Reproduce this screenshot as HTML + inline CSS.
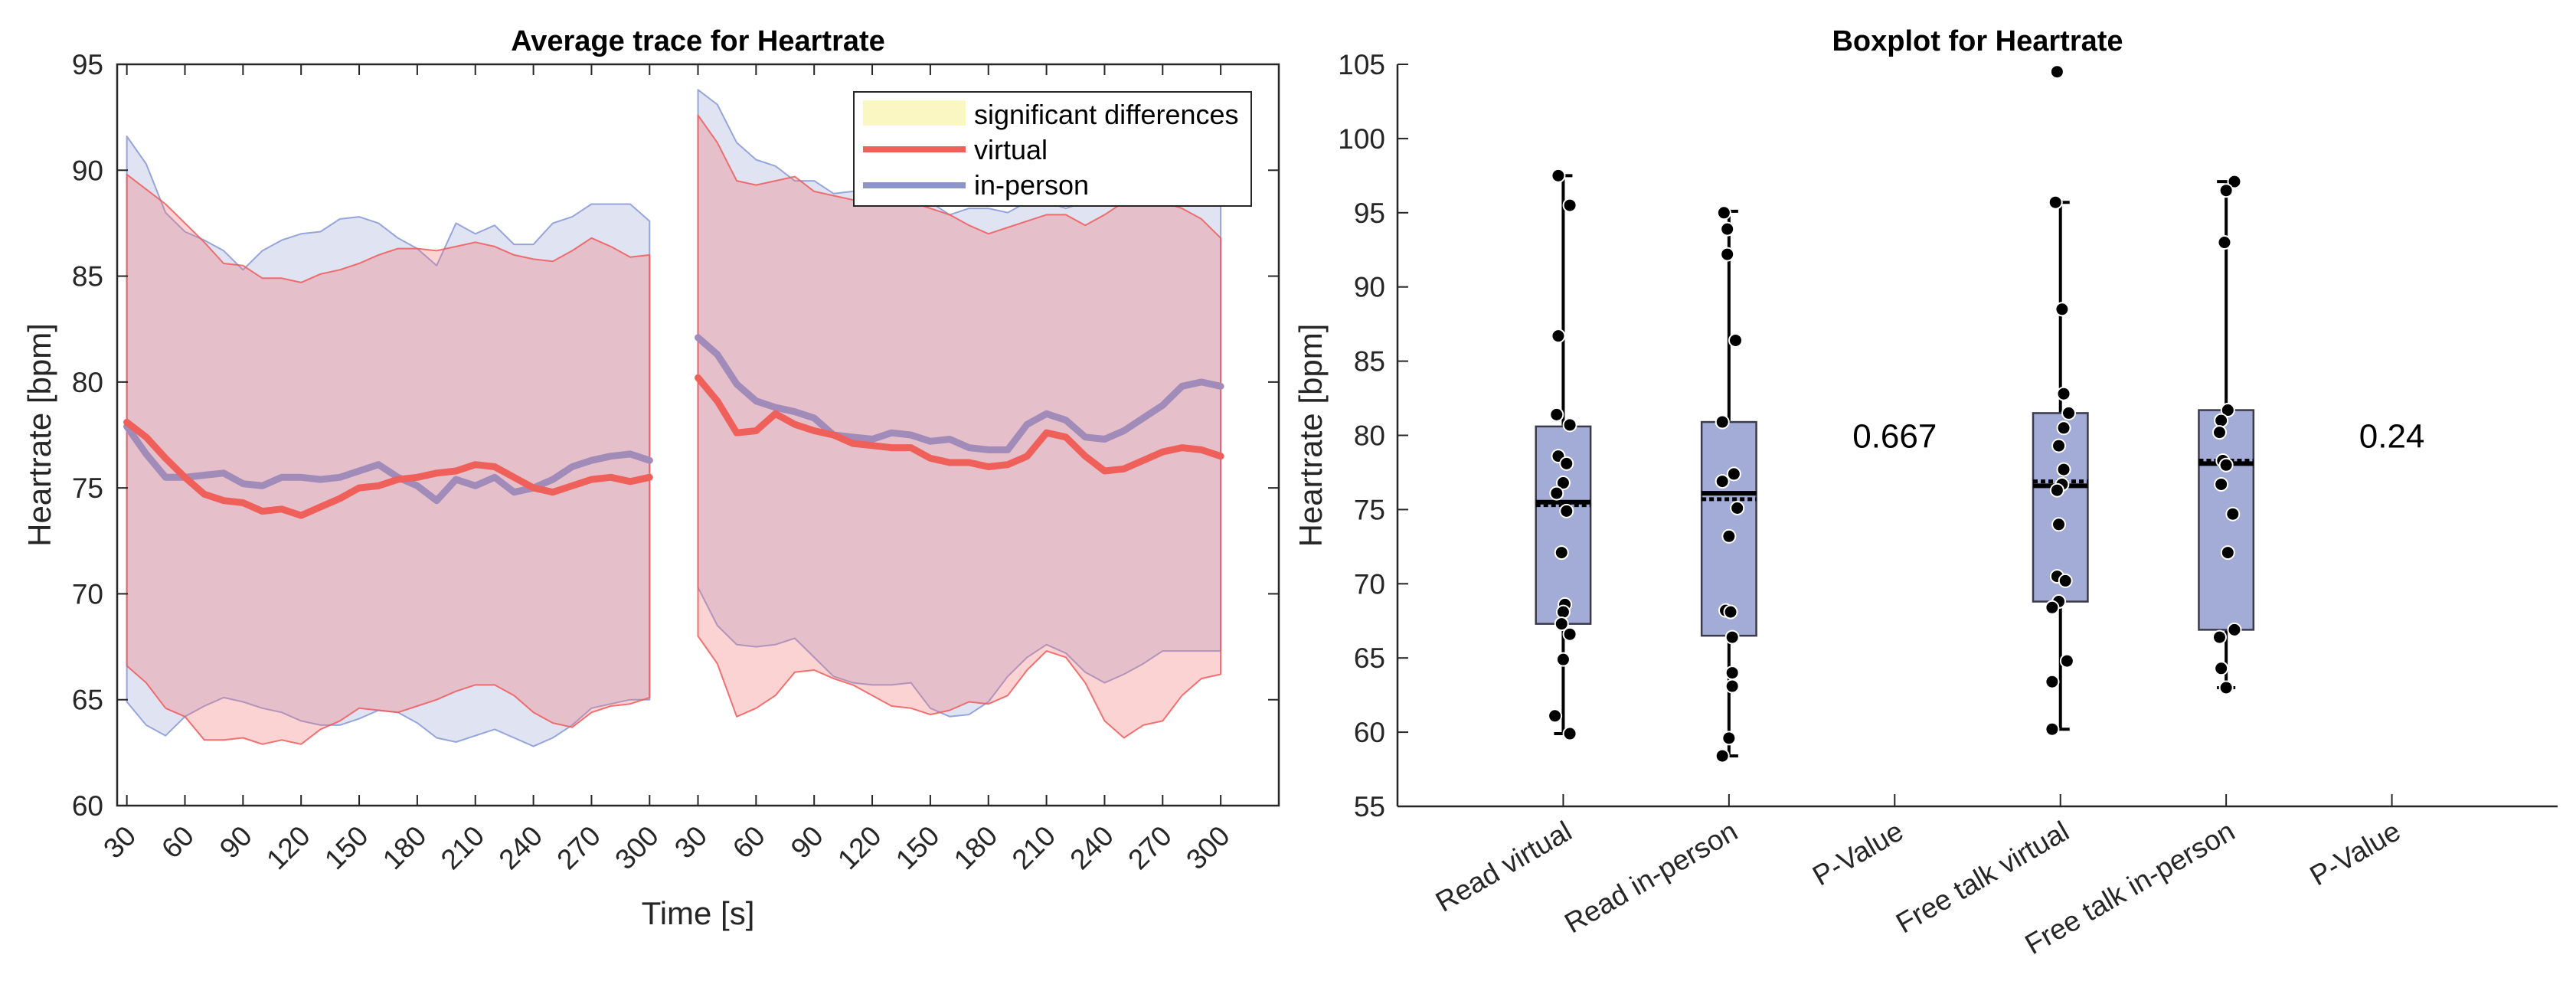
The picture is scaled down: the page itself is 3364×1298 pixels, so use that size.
<!DOCTYPE html>
<html><head><meta charset="utf-8"><style>
html,body{margin:0;padding:0;background:#fff;}
svg{display:block;font-family:"Liberation Sans",Arial,sans-serif;}
</style></head><body>
<svg id="fig" width="3364" height="1298" viewBox="0 0 3364 1298" xmlns="http://www.w3.org/2000/svg">
<rect width="3364" height="1298" fill="#fff"/>
<g id="left"></g>
<g id="right"></g>
</svg>
<script>
// ---------- Left chart data ----------
const times = [30,40,50,60,70,80,90,100,110,120,130,140,150,160,170,180,190,200,210,220,230,240,250,260,270,280,290,300];
const xTickLabels = [30,60,90,120,150,180,210,240,270,300];
const yTickLeft = [60,65,70,75,80,85,90,95];
// Panel 1 (read)
const p1VirtMean = [78.1,77.4,76.4,75.5,74.7,74.4,74.3,73.9,74.0,73.7,74.1,74.5,75.0,75.1,75.4,75.5,75.7,75.8,76.1,76.0,75.5,75.0,74.8,75.1,75.4,75.5,75.3,75.5];
const p1PersMean = [77.9,76.6,75.5,75.5,75.6,75.7,75.2,75.1,75.5,75.5,75.4,75.5,75.8,76.1,75.5,75.1,74.4,75.4,75.1,75.5,74.8,75.0,75.4,76.0,76.3,76.5,76.6,76.3];
const p1VirtUpper = [89.8,89.1,88.4,87.5,86.6,85.6,85.5,84.9,84.9,84.7,85.1,85.3,85.6,86.0,86.3,86.3,86.2,86.4,86.6,86.4,86.0,85.8,85.7,86.2,86.8,86.4,85.9,86.0];
const p1VirtLower = [66.6,65.8,64.6,64.2,63.1,63.1,63.2,62.9,63.1,62.9,63.6,64.0,64.6,64.5,64.4,64.7,65.0,65.4,65.7,65.7,65.2,64.4,63.9,63.7,64.4,64.7,64.8,65.1];
const p1PersUpper = [91.6,90.3,88.0,87.1,86.7,86.2,85.3,86.2,86.7,87.0,87.1,87.7,87.8,87.5,86.8,86.3,85.5,87.5,87.0,87.4,86.5,86.5,87.5,87.8,88.4,88.4,88.4,87.6];
const p1PersLower = [64.9,63.8,63.3,64.2,64.7,65.1,64.9,64.6,64.4,64.0,63.8,63.8,64.1,64.5,64.4,63.9,63.2,63.0,63.3,63.6,63.2,62.8,63.2,63.8,64.6,64.8,65.0,65.0];
// Panel 2 (free talk)
const p2VirtMean = [80.2,79.1,77.6,77.7,78.5,78.0,77.7,77.5,77.1,77.0,76.9,76.9,76.4,76.2,76.2,76.0,76.1,76.5,77.6,77.4,76.5,75.8,75.9,76.3,76.7,76.9,76.8,76.5];
const p2PersMean = [82.1,81.3,79.9,79.1,78.8,78.6,78.3,77.5,77.4,77.3,77.6,77.5,77.2,77.3,76.9,76.8,76.8,78.0,78.5,78.2,77.4,77.3,77.7,78.3,78.9,79.8,80.0,79.8];
const p2VirtUpper = [92.6,91.3,89.5,89.3,89.5,89.7,89.0,88.8,88.6,88.5,88.5,88.5,88.2,87.9,87.4,87.0,87.3,87.6,87.9,87.9,87.4,87.9,88.5,88.8,88.5,88.2,87.7,86.8];
const p2VirtLower = [68.0,66.7,64.2,64.6,65.2,66.3,66.4,66.0,65.7,65.2,64.7,64.6,64.3,64.5,64.9,64.8,65.2,66.4,67.3,67.0,65.8,64.0,63.2,63.8,64.0,65.2,66.0,66.2];
const p2PersUpper = [93.8,93.1,91.3,90.5,90.2,89.5,89.5,88.9,89.0,89.0,89.0,89.0,88.5,87.9,88.2,88.2,88.0,88.5,88.5,88.2,88.5,88.8,89.0,89.0,89.0,89.0,88.8,89.0];
const p2PersLower = [70.3,68.5,67.6,67.5,67.6,67.9,67.0,66.1,65.8,65.7,65.7,65.8,64.6,64.2,64.3,64.9,66.1,67.0,67.6,67.2,66.3,65.8,66.2,66.7,67.3,67.3,67.3,67.3];
const panel2Offset = 295;

// ---------- Right chart data ----------
const categories = ["Read virtual","Read in-person","P-Value","Free talk virtual","Free talk in-person","P-Value"];
const yTickRight = [55,60,65,70,75,80,85,90,95,100,105];
const boxQ1 = [67.3,66.5,68.8,66.9];
const boxQ3 = [80.6,80.9,81.5,81.7];
const boxMedian = [75.5,76.1,76.6,78.1];
const boxMean = [75.3,75.7,76.9,78.3];
const whiskerLow = [59.9,58.4,60.2,63.0];
const whiskerHigh = [97.5,95.1,95.7,97.1];
const boxCategoryIndex = [1,2,4,5];
const pValues = ["0.667","0.24"];
const pValueIndex = [3,6];
const pts1 = [97.5,95.5,86.7,81.4,80.7,78.6,78.1,76.8,76.1,74.9,72.1,68.6,68.1,67.3,66.6,64.9,61.1,59.9];
const jit1 = [-0.03,0.04,-0.03,-0.04,0.04,-0.03,0.02,0,-0.04,0.02,-0.01,0.01,0,-0.01,0.04,0,-0.05,0.04];
const pts2 = [95.0,93.9,92.2,86.4,80.9,77.4,76.9,75.1,73.2,68.2,68.1,66.4,64.0,63.1,59.6,58.4];
const jit2 = [-0.03,-0.01,-0.01,0.04,-0.04,0.03,-0.04,0.05,0,-0.02,0.01,0.02,0.02,0.02,0,-0.04];
const pts3 = [104.5,95.7,88.5,82.8,81.5,80.5,79.3,77.7,76.7,76.3,74.0,70.5,70.2,68.8,68.4,64.8,63.4,60.2];
const jit3 = [-0.02,-0.03,0.01,0.02,0.05,0.02,-0.01,0.02,0.01,-0.02,-0.01,-0.02,0.03,-0.01,-0.05,0.04,-0.05,-0.05];
const pts4 = [97.1,96.5,93.0,81.7,81.0,80.2,78.3,78.0,76.7,74.7,72.1,66.9,66.4,64.3,63.0];
const jit4 = [0.05,0,-0.01,0.01,-0.03,-0.04,-0.02,0,-0.03,0.04,0.01,0.05,-0.04,-0.03,0];

const NS = "http://www.w3.org/2000/svg";
function mk(parent, tag, attrs, text){
  const e = document.createElementNS(NS, tag);
  for (const k in attrs) e.setAttribute(k, attrs[k]);
  if (text !== undefined) e.textContent = text;
  parent.appendChild(e);
  return e;
}
const TXT = "#262626";

// ===== LEFT =====
(function(){
  const g = document.getElementById('left');
  const L=153, R=1670, T=84, B=1052;
  const xMin=25, xMax=625, yMin=60, yMax=95;
  const X = u => L + (u-xMin)/(xMax-xMin)*(R-L);
  const Y = v => B - (v-yMin)/(yMax-yMin)*(B-T);
  function area(tArr, off, up, lo, fill, stroke, name){
    let d = "M"+tArr.map((t,i)=>X(t+off).toFixed(1)+","+Y(up[i]).toFixed(1)).join("L");
    for (let i=tArr.length-1;i>=0;i--) d += "L"+X(tArr[i]+off).toFixed(1)+","+Y(lo[i]).toFixed(1);
    d += "Z";
    const p = mk(g,'path',{d:d, fill:fill, stroke:stroke, 'stroke-width':2, 'stroke-linejoin':'round'});
    
    
  }
  function line(tArr, off, vals, color, name){
    const d = "M"+tArr.map((t,i)=>X(t+off).toFixed(1)+","+Y(vals[i]).toFixed(1)).join("L");
    const p = mk(g,'path',{d:d, fill:'none', stroke:color, 'stroke-width':9, 'stroke-linejoin':'round','stroke-linecap':'round'});
    
    
  }
  const blueFill="rgba(120,140,200,0.24)", blueStroke="rgba(120,140,210,0.75)";
  const redFill="rgba(245,110,110,0.30)", redStroke="rgba(240,90,90,0.85)";
  area(times,0,p1PersUpper,p1PersLower,blueFill,blueStroke,'inperson-band-read');
  area(times,0,p1VirtUpper,p1VirtLower,redFill,redStroke,'virtual-band-read');
  area(times,panel2Offset,p2PersUpper,p2PersLower,blueFill,blueStroke,'inperson-band-freetalk');
  area(times,panel2Offset,p2VirtUpper,p2VirtLower,redFill,redStroke,'virtual-band-freetalk');
  line(times,0,p1PersMean,'#a08bb9','inperson-mean-read');
  line(times,0,p1VirtMean,'#f0605a','virtual-mean-read');
  line(times,panel2Offset,p2PersMean,'#a08bb9','inperson-mean-freetalk');
  line(times,panel2Offset,p2VirtMean,'#f0605a','virtual-mean-freetalk');

  // frame
  const fr = mk(g,'rect',{x:L,y:T,width:R-L,height:B-T,fill:'none',stroke:TXT,'stroke-width':2.5});
   
  // y ticks
  yTickLeft.forEach(v=>{
    const y=Y(v);
    mk(g,'line',{x1:L,x2:L+14,y1:y,y2:y,stroke:TXT,'stroke-width':2});
    mk(g,'line',{x1:R,x2:R-14,y1:y,y2:y,stroke:TXT,'stroke-width':2});
    const t = mk(g,'text',{x:L-18,y:y+13,'text-anchor':'end','font-size':37,fill:TXT},String(v));
     
  });
  // x ticks
  [0,panel2Offset].forEach(off=>{
    xTickLabels.forEach(v=>{
      const x=X(v+off);
      mk(g,'line',{x1:x,x2:x,y1:B,y2:B-14,stroke:TXT,'stroke-width':2});
      mk(g,'line',{x1:x,x2:x,y1:T,y2:T+14,stroke:TXT,'stroke-width':2});
      const t = mk(g,'text',{x:x+14,y:B+42,'text-anchor':'end','font-size':37,fill:TXT,transform:`rotate(-45 ${x+14} ${B+42})`},String(v));
       
    });
  });
  const ttl = mk(g,'text',{x:(L+R)/2,y:66,'text-anchor':'middle','font-size':38,'font-weight':'bold',fill:'#000'},'Average trace for Heartrate');
   
  const xl = mk(g,'text',{x:(L+R)/2,y:1207,'text-anchor':'middle','font-size':42,fill:TXT},'Time [s]');
   
  const yl = mk(g,'text',{x:66,y:(T+B)/2,'text-anchor':'middle','font-size':42,fill:TXT,transform:`rotate(-90 66 ${(T+B)/2})`},'Heartrate [bpm]');
   

  // legend
  const lg = mk(g,'g',{});
   
  mk(lg,'rect',{x:1115,y:120,width:519,height:149,fill:'#fff',stroke:TXT,'stroke-width':2});
  mk(lg,'rect',{x:1127,y:131,width:134,height:33,fill:'#faf7c3'});
  mk(lg,'line',{x1:1127,x2:1261,y1:195,y2:195,stroke:'#f0605a','stroke-width':8});
  mk(lg,'line',{x1:1127,x2:1261,y1:242,y2:242,stroke:'#8c94c8','stroke-width':8});
  const e1=mk(lg,'text',{x:1272,y:162,'font-size':36,fill:'#000'},'significant differences');
   
  const e2=mk(lg,'text',{x:1272,y:208,'font-size':36,fill:'#000'},'virtual');
   
  const e3=mk(lg,'text',{x:1272,y:254,'font-size':36,fill:'#000'},'in-person');
   
})();

// ===== RIGHT =====
(function(){
  const g = document.getElementById('right');
  const L=1825, R=3340, T=84, B=1053;
  const yMin=55, yMax=105;
  const X = c => L + c/7*(R-L);
  const Y = v => B - (v-yMin)/(yMax-yMin)*(B-T);
  const bw = 0.33; // box width in category units
  const allPts=[pts1,pts2,pts3,pts4], allJit=[jit1,jit2,jit3,jit4];
  boxCategoryIndex.forEach((c,i)=>{
    const bg = mk(g,'g',{});
     
    const cx=X(c), hw=bw/2*(R-L)/7;
    mk(bg,'line',{x1:cx,x2:cx,y1:Y(whiskerHigh[i]),y2:Y(whiskerLow[i]),stroke:'#000','stroke-width':4});
    mk(bg,'line',{x1:cx-12,x2:cx+12,y1:Y(whiskerHigh[i]),y2:Y(whiskerHigh[i]),stroke:'#000','stroke-width':4});
    mk(bg,'line',{x1:cx-12,x2:cx+12,y1:Y(whiskerLow[i]),y2:Y(whiskerLow[i]),stroke:'#000','stroke-width':4});
    mk(bg,'rect',{x:cx-hw,y:Y(boxQ3[i]),width:2*hw,height:Y(boxQ1[i])-Y(boxQ3[i]),fill:'#a2acd6',stroke:'#3a3a4a','stroke-width':2.5});
    mk(bg,'line',{x1:cx-hw,x2:cx+hw,y1:Y(boxMean[i]),y2:Y(boxMean[i]),stroke:'#000','stroke-width':5,'stroke-dasharray':'6 4'});
    mk(bg,'line',{x1:cx-hw,x2:cx+hw,y1:Y(boxMedian[i]),y2:Y(boxMedian[i]),stroke:'#000','stroke-width':6});
    allPts[i].forEach((v,j)=>{
      const p = mk(bg,'circle',{cx:X(c+allJit[i][j]),cy:Y(v),r:8.5,fill:'#000',stroke:'#fff','stroke-width':2});
       
    });
  });
  pValueIndex.forEach((c,i)=>{
    const t = mk(g,'text',{x:X(c),y:Y(80)+16,'text-anchor':'middle','font-size':44,fill:'#000'},pValues[i]);
     
  });
  mk(g,'line',{x1:L,x2:L,y1:T,y2:B,stroke:TXT,'stroke-width':2.5});
  mk(g,'line',{x1:L,x2:R,y1:B,y2:B,stroke:TXT,'stroke-width':2.5});
  yTickRight.forEach(v=>{
    const y=Y(v);
    mk(g,'line',{x1:L,x2:L+14,y1:y,y2:y,stroke:TXT,'stroke-width':2});
    const t = mk(g,'text',{x:L-16,y:y+13,'text-anchor':'end','font-size':37,fill:TXT},String(v));
     
  });
  categories.forEach((c,i)=>{
    const x=X(i+1);
    mk(g,'line',{x1:x,x2:x,y1:B,y2:B-16,stroke:TXT,'stroke-width':2});
    const t = mk(g,'text',{x:x+14,y:B+40,'text-anchor':'end','font-size':37,fill:TXT,transform:`rotate(-30 ${x+14} ${B+40})`},c);
     
  });
  const ttl = mk(g,'text',{x:(L+R)/2,y:66,'text-anchor':'middle','font-size':38,'font-weight':'bold',fill:'#000'},'Boxplot for Heartrate');
   
  const yl = mk(g,'text',{x:1726,y:(T+B)/2,'text-anchor':'middle','font-size':42,fill:TXT,transform:`rotate(-90 1726 ${(T+B)/2})`},'Heartrate [bpm]');
   
})();
</script>
</body></html>
